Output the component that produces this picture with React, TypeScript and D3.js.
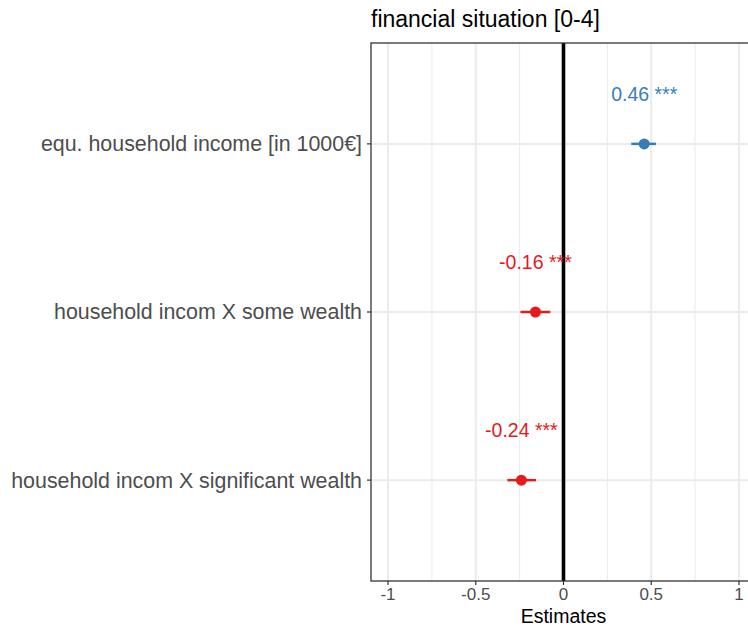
import React from "react";
import * as d3 from "d3";

const terms = [
  "equ. household income [in 1000€]",
  "household incom X some wealth",
  "household incom X significant wealth",
];
const estimates = [0.46, -0.16, -0.24];
const ciLow = [0.386, -0.245, -0.32];
const ciHigh = [0.527, -0.075, -0.157];
const stars = ["***", "***", "***"];
const xTicks = [-1, -0.5, 0, 0.5, 1];
const xMinor = [-0.75, -0.25, 0.25, 0.75];

const W = 748;
const H = 627;
const margin = { left: 371, top: 43, right: -8, bottom: 46 };
const FONT = "'Liberation Sans', Arial, sans-serif";

export default function App() {
  const x = d3
    .scaleLinear()
    .domain([-1.097, 1.097])
    .range([margin.left, W - margin.right]);
  const y = d3
    .scalePoint<string>()
    .domain(terms)
    .range([margin.top, H - margin.bottom])
    .padding(0.6);
  const colorOf = (v: number) => (v >= 0 ? "#377EB8" : "#E41A1C");
  const top = margin.top;
  const bottom = H - margin.bottom;
  const left = margin.left;
  const right = W - margin.right;
  const fmt = (t: number) => String(t);

  return (
    <div style={{ position: "absolute", left: 0, top: 0 }}>
      <svg width={W} height={H} style={{ display: "block", background: "#fff" }}>
        {/* grid */}
        {xMinor.map((t) => (
          <line key={"mi" + t} x1={x(t)} x2={x(t)} y1={top} y2={bottom} stroke="#EBEBEB" strokeWidth={1} />
        ))}
        {xTicks.map((t) => (
          <line key={"ma" + t} x1={x(t)} x2={x(t)} y1={top} y2={bottom} stroke="#EBEBEB" strokeWidth={2} />
        ))}
        {terms.map((t) => (
          <line key={"h" + t} x1={left} x2={right} y1={y(t)} y2={y(t)} stroke="#EBEBEB" strokeWidth={2} />
        ))}
        {/* zero reference */}
        <line x1={x(0)} x2={x(0)} y1={top} y2={bottom} stroke="#000" strokeWidth={3.6} />
        {/* estimates */}
        {terms.map((t, i) => {
          const c = colorOf(estimates[i]);
          const cy = y(t)!;
          return (
            <g key={"p" + t}>
              <line x1={x(ciLow[i])} x2={x(ciHigh[i])} y1={cy} y2={cy} stroke={c} strokeWidth={2.5} />
              <circle cx={x(estimates[i])} cy={cy} r={5.5} fill={c} />
              <text
                x={x(estimates[i])}
                y={cy - 43}
                textAnchor="middle"
                fill={c}
                fontFamily={FONT}
                fontSize={19.5}
              >
                {estimates[i].toFixed(2) + " " + stars[i]}
              </text>
            </g>
          );
        })}
        {/* panel border */}
        <rect x={left} y={top} width={right - left} height={bottom - top} fill="none" stroke="#333333" strokeWidth={1.3} />
        {/* y axis */}
        {terms.map((t) => (
          <g key={"yl" + t}>
            <line x1={left - 4} x2={left} y1={y(t)} y2={y(t)} stroke="#333333" strokeWidth={1.2} />
            <text
              x={left - 9}
              y={y(t)!}
              dy="0.35em"
              textAnchor="end"
              fill="#4D4D4D"
              fontFamily={FONT}
              fontSize={21.4}
            >
              {t}
            </text>
          </g>
        ))}
        {/* x axis */}
        {xTicks.map((t) => (
          <g key={"xl" + t}>
            <line x1={x(t)} x2={x(t)} y1={bottom} y2={bottom + 4} stroke="#333333" strokeWidth={1.2} />
            <text
              x={x(t)}
              y={bottom + 19}
              textAnchor="middle"
              fill="#4D4D4D"
              fontFamily={FONT}
              fontSize={17}
            >
              {fmt(t)}
            </text>
          </g>
        ))}
        <text x={x(0)} y={623} textAnchor="middle" fill="#000" fontFamily={FONT} fontSize={19.5}>
          Estimates
        </text>
        <text x={left} y={27} fill="#000" fontFamily={FONT} fontSize={23}>
          financial situation [0-4]
        </text>
      </svg>
    </div>
  );
}
